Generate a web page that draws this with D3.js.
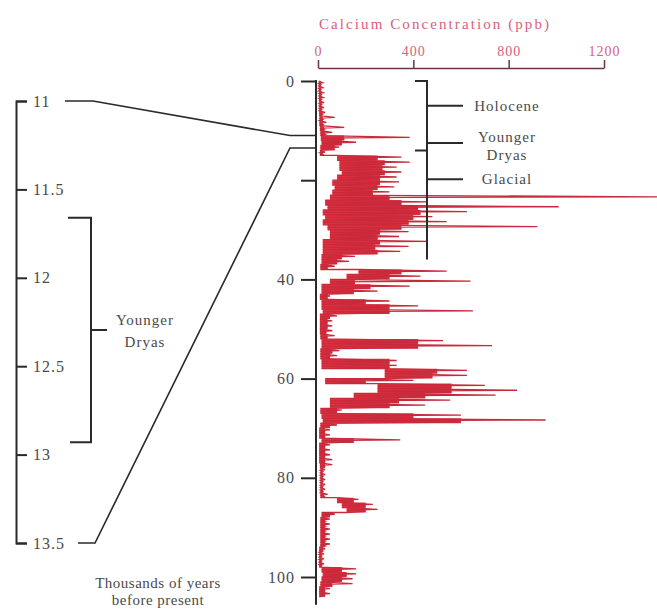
<!DOCTYPE html>
<html>
<head>
<meta charset="utf-8">
<script src="https://cdn.jsdelivr.net/npm/d3@7/dist/d3.min.js"></script>
<style>
body{margin:0;background:#fff;}
svg text{font-family:"Liberation Serif","Times New Roman",serif;}
</style>
</head>
<body>
<div id="chart"></div>
<script>
// calcium record, one bin per thousand years before present (ppb)
// low edge, dense core, spike maximum
var caLow = [3,3,4,4,5,5,5,6,6,8, 10,12,15,10,8,80,90,90,100,80,
	60,70,60,50,30,40,20,30,20,40, 50,50,20,20,20,15,15,10,170,120,
	50,15,15,8,15,15,20,8,8,8, 8,10,15,15,10,10,15,15,280,280,
	30,250,250,150,50,50,10,15,20,10, 5,5,15,5,5,5,5,8,10,10,
	10,10,10,10,80,100,120,15,10,10, 10,10,10,10,5,5,5,5,15,20,
	15,10,5,5];
var caCore = [12,12,14,14,15,15,18,20,20,25, 30,110,100,70,20,250,280,270,280,260,
	260,250,230,300,350,420,430,400,380,350, 260,250,260,240,250,100,80,40,350,300,
	155,220,150,40,200,300,300,50,40,40, 35,40,420,420,60,50,300,300,500,480,
	200,560,560,450,340,300,80,400,600,50, 30,30,150,30,30,30,30,30,20,20,
	20,20,20,25,150,200,200,50,30,30, 30,30,30,30,20,15,15,15,100,120,
	100,60,30,30];
var caHigh = [20,20,22,22,25,25,30,70,35,110, 60,385,160,90,30,350,385,330,350,330,
	340,320,300,1424,460,1010,625,480,540,920, 380,340,460,380,345,155,130,70,540,430,
	640,385,250,50,300,420,650,80,60,60, 60,70,525,730,90,80,330,330,625,625,
	400,700,835,745,555,450,100,600,955,80, 50,50,345,50,50,50,60,60,30,30,
	30,30,30,40,170,230,250,70,50,50, 50,50,50,50,30,25,25,25,160,160,
	145,145,50,50];

var caTicks = [0,400,800,1200];
var ageTicks = [0,20,40,60,80,100];
var ageLabels = ["0","","40","60","80","100"];
var zoomTicks = [11,11.5,12,12.5,13,13.5];
var zoomLabels = ["11","11.5","12","12.5","13","13.5"];
var ydZoom = [11.66,12.93];          // Younger Dryas in the zoomed scale
var periodBracket = [0,14,36];       // right bracket: top, split, bottom (kyr)
var periodNames = [["Holocene"],["Younger","Dryas"],["Glacial"]];
var periodAge = [5,12.5,19.8];

(function(){
	var width=657, height=611;

	var svg = d3.select("#chart")
	.append("svg")
	.attr("width",width)
	.attr("height",height)

	var x = d3.scaleLinear().domain([0,1200]).range([318,604])
	var y = d3.scaleLinear().domain([0,100]).range([81,577])
	var yz = d3.scaleLinear().domain([11,13.5]).range([101,543])

	var ink="#2a2a2a", txt="#4a4a4a", pink="#d8607e";

	// ---- calcium curve
	var bins = caLow.map(function(v,i){
		return {age:i, lo:v, core:caCore[i], hi:caHigh[i]};
	})
	var steps=[];
	bins.forEach(function(d){
		steps.push({age:d.age, lo:d.lo, core:d.core});
		steps.push({age:d.age+1, lo:d.lo, core:d.core});
	})
	var area = d3.area()
		.y(function(d){return y(d.age);})
		.x0(function(d){return x(d.lo);})
		.x1(function(d){return x(d.core);})
	svg.append("path")
		.datum(steps)
		.attr("d",area)
		.attr("fill","#e2323e")

	var spikes=[];
	bins.forEach(function(d){
		spikes.push([d.lo,d.age]);
		spikes.push([d.hi,d.age+0.35]);
		spikes.push([d.lo,d.age+0.5]);
		spikes.push([d.core,d.age+0.75]);
		spikes.push([d.lo,d.age+1]);
	})
	var line = d3.line()
		.x(function(d){return x(d[0]);})
		.y(function(d){return y(d[1]);})
	svg.append("path")
		.datum(spikes)
		.attr("d",line)
		.attr("fill","none")
		.attr("stroke","#c82a3c")
		.attr("stroke-width",1.3)

	// ---- top axis
	svg.append("text")
		.attr("x",434)
		.attr("y",29)
		.attr("text-anchor","middle")
		.attr("fill",pink)
		.style("font-size","15px")
		.attr("textLength",230)
		.attr("lengthAdjust","spacing")
		.text("Calcium Concentration (ppb)")

	var xAxis = svg.append("g")
		.attr("transform","translate(0,68)")
		.call(d3.axisTop(x).tickValues(caTicks).tickSize(8).tickSizeOuter(0).tickPadding(4)
			.tickFormat(d3.format("d")))
	xAxis.select(".domain").attr("stroke","#6b3444").attr("stroke-width",1.5)
	xAxis.selectAll(".tick line").attr("stroke","#6b3444").attr("stroke-width",1.5)
	xAxis.selectAll(".tick text")
		.attr("fill",pink)
		.style("font-size","14px")
		.style("font-family","'Liberation Serif',serif")
		.style("letter-spacing","1px")

	// ---- main age axis
	var yAxis = svg.append("g")
		.attr("transform","translate(316,0)")
		.call(d3.axisLeft(y).tickValues(ageTicks).tickSize(15).tickSizeOuter(0).tickPadding(6)
			.tickFormat(function(d,i){return ageLabels[i];}))
	yAxis.select(".domain").remove()
	yAxis.selectAll(".tick line").attr("stroke",ink).attr("stroke-width",2)
	yAxis.selectAll(".tick text")
		.attr("fill",txt)
		.style("font-size","16px")
		.style("font-family","'Liberation Serif',serif")
		.style("letter-spacing","1px")
	svg.append("line")
		.attr("x1",316).attr("x2",316)
		.attr("y1",y(0)-1).attr("y2",y(105.6))
		.attr("stroke",ink).attr("stroke-width",2)

	// ---- zoomed scale on the left
	var zAxis = svg.append("g")
		.attr("transform","translate(16,0)")
		.call(d3.axisRight(yz).tickValues(zoomTicks).tickSize(11).tickSizeOuter(11).tickPadding(6)
			.tickFormat(function(d,i){return zoomLabels[i];}))
	zAxis.select(".domain").attr("stroke",ink).attr("stroke-width",2).attr("fill","none")
	zAxis.selectAll(".tick line").attr("stroke",ink).attr("stroke-width",2)
	zAxis.selectAll(".tick text")
		.attr("fill",txt)
		.style("font-size","16px")
		.style("font-family","'Liberation Serif',serif")
		.style("letter-spacing","1px")

	// Younger Dryas bracket (zoomed)
	svg.append("path")
		.attr("d","M68,"+yz(ydZoom[0])+"H91V"+yz(ydZoom[1])+"H70"
			+"M91,"+yz(d3.mean(ydZoom))+"H107")
		.attr("fill","none").attr("stroke",ink).attr("stroke-width",2)
	svg.append("text")
		.attr("x",145).attr("y",yz(d3.mean(ydZoom)))
		.attr("text-anchor","middle")
		.attr("fill",txt)
		.style("font-size","15px")
		.style("letter-spacing","1px")
		.selectAll("tspan")
		.data(["Younger","Dryas"])
		.enter().append("tspan")
		.attr("x",145)
		.attr("dy",function(d,i){return i===0?"-0.3em":"1.45em";})
		.text(function(d){return d;})

	// connectors from zoom scale to main axis
	var links=[[11,65,93],[13.5,78,95]];
	svg.selectAll(".link")
		.data(links)
		.enter().append("path")
		.attr("class","link")
		.attr("d",function(d){
			return "M"+d[1]+","+yz(d[0])+"H"+d[2]+"L290,"+y(d[0])+"H316";
		})
		.attr("fill","none").attr("stroke",ink).attr("stroke-width",1.6)

	// ---- period bracket on the right
	svg.append("path")
		.attr("d","M415,"+y(periodBracket[0])+"H427V"+y(periodBracket[2])
			+"M415,"+y(periodBracket[1])+"H427")
		.attr("fill","none").attr("stroke",ink).attr("stroke-width",2)
	svg.selectAll(".ptick")
		.data(periodAge)
		.enter().append("line")
		.attr("class","ptick")
		.attr("x1",427).attr("x2",463)
		.attr("y1",function(d){return y(d);})
		.attr("y2",function(d){return y(d);})
		.attr("stroke",ink).attr("stroke-width",2)
	var plab = svg.selectAll(".plab")
		.data(periodNames)
		.enter().append("text")
		.attr("class","plab")
		.attr("text-anchor","middle")
		.attr("fill",txt)
		.style("font-size","15px")
		.style("letter-spacing","1px")
		.attr("y",function(d,i){return y(periodAge[i]);})
	plab.selectAll("tspan")
		.data(function(d){return d;})
		.enter().append("tspan")
		.attr("x",507)
		.attr("dy",function(d,i,n){
			if(n.length===1) return "0.35em";
			return i===0?"-0.1em":"1.2em";
		})
		.text(function(d){return d;})

	// ---- axis caption
	svg.append("text")
		.attr("x",158).attr("y",588)
		.attr("text-anchor","middle")
		.attr("fill",txt)
		.style("font-size","15px")
		.style("letter-spacing","0.5px")
		.selectAll("tspan")
		.data(["Thousands of years","before present"])
		.enter().append("tspan")
		.attr("x",158)
		.attr("dy",function(d,i){return i===0?0:"1.15em";})
		.text(function(d){return d;})

})();
</script>
</body>
</html>
